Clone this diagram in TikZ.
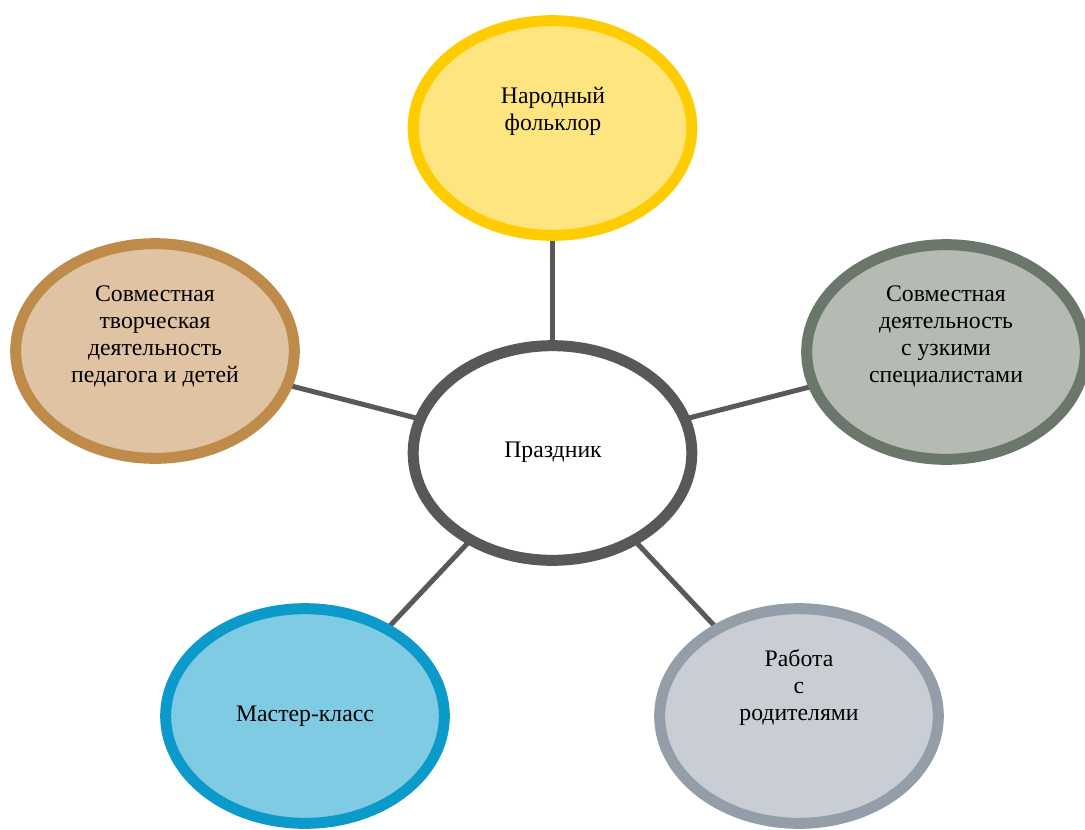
\documentclass[tikz,border=0pt]{standalone}
\usepackage{fontspec}
\setmainfont{Liberation Serif}
\newfontfamily\rusfont{Liberation Serif}
\usetikzlibrary{shapes.geometric,backgrounds}
\definecolor{yelB}{HTML}{FFCC00}
\definecolor{yelF}{HTML}{FFE57F}
\definecolor{tanB}{HTML}{BF8B4A}
\definecolor{tanF}{HTML}{DFC3A2}
\definecolor{grnB}{HTML}{6B776B}
\definecolor{grnF}{HTML}{B5BAB3}
\definecolor{bluB}{HTML}{0B9AC9}
\definecolor{bluF}{HTML}{7FCBE4}
\definecolor{gryB}{HTML}{939EA9}
\definecolor{gryF}{HTML}{C9CED5}
\definecolor{cenB}{HTML}{585858}
\definecolor{connC}{HTML}{595959}
\begin{document}
\begin{tikzpicture}[x=0.75pt,y=-0.75pt,
  bub/.style={ellipse, draw, line width=8.25pt, inner sep=0pt,
    minimum width=209pt, minimum height=161pt},
  lbl/.style={align=center, inner sep=0pt, text=black,
    font=\rusfont\fontsize{17.8}{20.25}\selectfont},
  conn/.style={line width=3.75pt, draw=connC}]
\useasboundingbox (0,0) rectangle (1085,829);
\node[bub, draw=yelB, fill=yelF] (top) at (552.5,128) {};
\node[bub, draw=tanB, fill=tanF] (left) at (155,351) {};
\node[bub, draw=grnB, fill=grnF] (right) at (946,352) {};
\node[bub, draw=cenB, fill=white] (mid) at (552.5,453) {};
\node[bub, draw=bluB, fill=bluF] (bl) at (305,716) {};
\node[bub, draw=gryB, fill=gryF] (br) at (799,716) {};
\begin{scope}[on background layer]
\draw[conn] (mid.center) -- (top.center);
\draw[conn] (mid.center) -- (left.center);
\draw[conn] (mid.center) -- (right.center);
\draw[conn] (mid.center) -- (bl.center);
\draw[conn] (mid.center) -- (br.center);
\end{scope}
\node[lbl] (ttop) at (553,111) {Народный\\фольклор};
\node[lbl] (tleft) at (155,336) {Совместная\\творческая\\деятельность\\педагога и детей};
\node[lbl] (tright) at (946,336) {Совместная\\деятельность\\с узкими\\специалистами};
\node[lbl] (tmid) at (553,452) {Праздник};
\node[lbl] (tbl) at (305,716) {Мастер-класс};
\node[lbl] (tbr) at (799,688) {Работа\\с\\родителями};
\end{tikzpicture}
\end{document}
